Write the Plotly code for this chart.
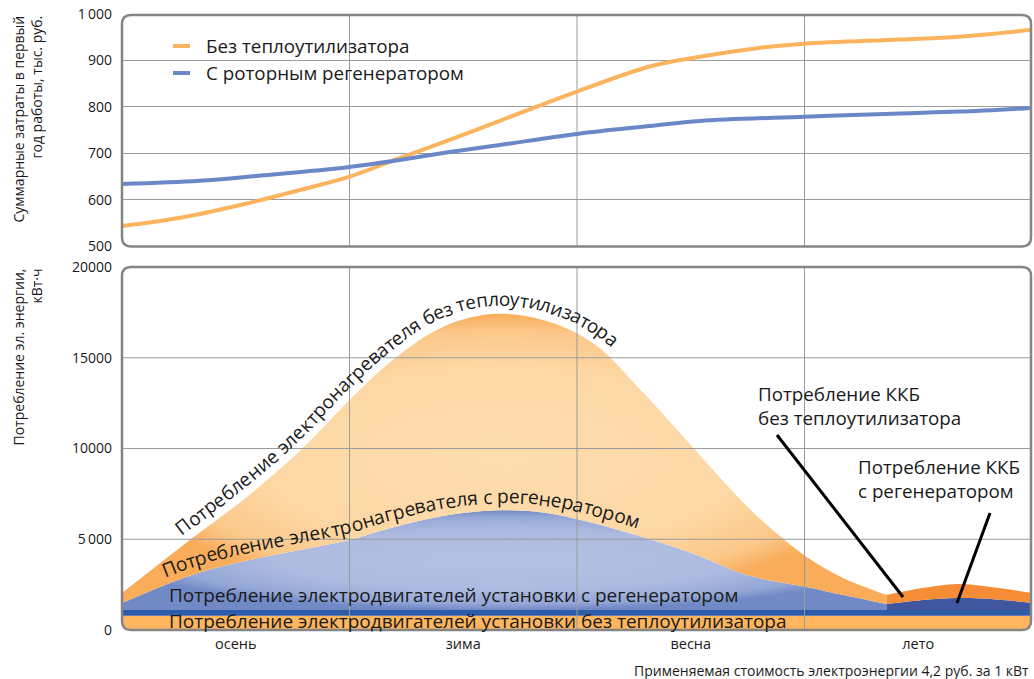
import numpy as np
import plotly.graph_objects as go

# ---------------- data ----------------
seasons = ['осень', 'зима', 'весна', 'лето']
season_pos = [0.5, 1.5, 2.5, 3.5]
season_bounds = [1, 2, 3]

# top panel: total costs, thousand rub
cost_x_without = [0, 0.25, 0.52, 0.78, 1.0, 1.22, 1.44, 1.66, 2.0, 2.32, 2.54, 2.8, 3.0, 3.42, 3.68, 4.0]
cost_without = [544, 561, 589, 621, 650, 690, 729, 770, 833, 887, 908, 927, 936, 945, 951, 966]
cost_x_with = [0, 0.34, 0.6, 1.0, 1.22, 1.44, 1.66, 2.0, 2.32, 2.54, 3.0, 3.42, 3.68, 4.0]
cost_with = [634, 641, 652, 671, 686, 703, 718, 742, 759, 770, 779, 786, 790, 798]

cost_ticks = [500, 600, 700, 800, 900, 1000]
cost_ticktext = ['500', '600', '700', '800', '900', '1\u2009000']

# bottom panel: energy consumption, kWh (stacked tops)
motors_x = [0, 4]
motors_without_top = [790, 790]
motors_with_top = [1100, 1100]

heater_x = [0, 0.31, 0.56, 0.8, 1.0, 1.19, 1.41, 1.63, 1.85, 2.07, 2.28, 2.5, 2.72, 2.86, 3.01, 3.16, 3.36]
heater_with_top = [1490, 3050, 3860, 4450, 4960, 5650, 6280, 6580, 6480, 5900, 5150, 4250, 3140, 2700, 2370, 1950, 1430]
heater_without_top = [2040, 5070, 7440, 10080, 12670, 14880, 16700, 17410, 17080, 15810, 13220, 10190, 7160, 5510, 4020, 2920, 1930]

kkb_x = [3.36, 3.52, 3.67, 3.82, 4.0]
kkb_with_top = [1430, 1650, 1760, 1710, 1490]
kkb_without_top = [1930, 2310, 2530, 2370, 2040]

energy_ticks = [0, 5000, 10000, 15000, 20000]
energy_ticktext = ['0', '5\u2009000', '10000', '15000', '20000']
energy_grid = [5000, 10000, 15000]

# ---------------- geometry helpers (for labels / frame only) ----------------
W, H = 1034, 679
ML, MR, MT, MB = 122, 2, 14, 49
PW = W - ML - MR          # 910
PH = H - MT - MB          # 616
TOP_PX = (14, 246.4)
BOT_PX = (267, 630)
top_dom = [(630 - TOP_PX[1]) / PH, 1.0]
bot_dom = [0.0, (630 - BOT_PX[0]) / PH]

def fx(p):
    return (p - ML) / PW

def fy(p):
    return (630 - p) / PH

def d2px(x, y):
    return ML + x * PW / 4.0, BOT_PX[1] - y * (BOT_PX[1] - BOT_PX[0]) / 20000.0

def px2d(px, py):
    return (px - ML) * 4.0 / PW, (BOT_PX[1] - py) * 20000.0 / (BOT_PX[1] - BOT_PX[0])

FONT = 'Open Sans'
TXT = '#1a1a1a'

EM = {'П': .73, 'Б': .62, 'С': .63, 'К': .62, 'а': .56, 'б': .60, 'в': .58, 'г': .45, 'д': .60,
      'е': .56, 'ж': .86, 'з': .49, 'и': .64, 'й': .64, 'к': .55, 'л': .60, 'м': .75, 'н': .64,
      'о': .60, 'п': .64, 'р': .61, 'с': .48, 'т': .47, 'у': .50, 'ф': .78, 'х': .52, 'ц': .65,
      'ч': .60, 'ш': .92, 'щ': .94, 'ы': .82, 'ь': .58, 'э': .49, 'ю': .86, 'я': .56, ' ': .26}

def catmull(pts, n=60):
    P = [pts[0]] + list(pts) + [pts[-1]]
    out = []
    for i in range(1, len(P) - 2):
        p0, p1, p2, p3 = [np.array(v, float) for v in P[i - 1:i + 3]]
        for t in np.linspace(0, 1, n, endpoint=False):
            t2, t3 = t * t, t * t * t
            out.append(0.5 * (2 * p1 + (-p0 + p2) * t + (2 * p0 - 5 * p1 + 4 * p2 - p3) * t2
                              + (-p0 + 3 * p1 - 3 * p2 + p3) * t3))
    out.append(np.array(P[-2], float))
    return np.array(out)

def curved_text(text, xs, ys, px_start, px_end, offset, max_size):
    pts = [d2px(x, y) for x, y in zip(xs, ys)]
    path = catmull(pts)
    d = np.gradient(path, axis=0)
    d = d / np.hypot(d[:, 0], d[:, 1])[:, None]
    nrm = np.stack([d[:, 1], -d[:, 0]], axis=1)
    op = path + offset * nrm
    seg = np.diff(op, axis=0)
    s = np.concatenate([[0.0], np.cumsum(np.hypot(seg[:, 0], seg[:, 1]))])
    i0 = int(np.argmin(np.abs(path[:, 0] - px_start)))
    i1 = int(np.argmin(np.abs(path[:, 0] - px_end)))
    s0, s1 = s[i0], s[i1]
    widths = np.array([EM.get(c, 0.58) for c in text])
    scale = (s1 - s0) / widths.sum()
    size = min(scale, max_size)
    anns = []
    pos = s0
    for c, w in zip(text, widths):
        mid = pos + w * scale / 2
        pos += w * scale
        if c == ' ':
            continue
        j = int(np.clip(np.searchsorted(s, mid), 1, len(s) - 1))
        t = (mid - s[j - 1]) / max(s[j] - s[j - 1], 1e-9)
        p = op[j - 1] + t * (op[j] - op[j - 1])
        ang = float(np.degrees(np.arctan2(d[j, 1], d[j, 0])))
        x, y = px2d(p[0], p[1])
        anns.append(dict(x=x, y=y, xref='x2', yref='y2', text=c, showarrow=False,
                         textangle=ang, xanchor='center', yanchor='middle',
                         font=dict(family=FONT, size=size, color=TXT)))
    return anns

# ---------------- figure ----------------
fig = go.Figure()

ORANGE_LINE = '#FBB45E'
BLUE_LINE = '#6A88C8'

fig.add_trace(go.Scatter(x=cost_x_without, y=cost_without, mode='lines', name='Без теплоутилизатора',
                         line=dict(color=ORANGE_LINE, width=4, shape='spline'),
                         xaxis='x', yaxis='y', showlegend=False))
fig.add_trace(go.Scatter(x=cost_x_with, y=cost_with, mode='lines', name='С роторным регенератором',
                         line=dict(color=BLUE_LINE, width=4, shape='spline'),
                         xaxis='x', yaxis='y', showlegend=False))

# bottom stacked areas
fig.add_trace(go.Scatter(x=motors_x, y=motors_without_top, mode='lines', fill='tozeroy',
                         fillcolor='#FDB55E', line=dict(width=0, color='#FDB55E'),
                         xaxis='x2', yaxis='y2', showlegend=False))
fig.add_trace(go.Scatter(x=motors_x, y=motors_with_top, mode='lines', fill='tonexty',
                         fillcolor='#2D5BA8', line=dict(width=0, color='#2D5BA8'),
                         xaxis='x2', yaxis='y2', showlegend=False))

fig.add_trace(go.Scatter(x=heater_x, y=[motors_with_top[0]] * len(heater_x), mode='lines',
                         line=dict(width=0, color='rgba(0,0,0,0)'),
                         xaxis='x2', yaxis='y2', showlegend=False))
fig.add_trace(go.Scatter(x=heater_x, y=heater_with_top, mode='lines', fill='tonexty',
                         line=dict(width=0, shape='spline', color='#7089C5'),
                         fillgradient=dict(type='radial',
                                           colorscale=[[0, '#B3C1E4'], [0.6, '#ADBBE0'],
                                                       [0.88, '#93A6D6'], [1, '#7189C5']]),
                         xaxis='x2', yaxis='y2', showlegend=False))
fig.add_trace(go.Scatter(x=heater_x, y=heater_without_top, mode='lines', fill='tonexty',
                         line=dict(width=0, shape='spline', color='#F9AE5E'),
                         fillgradient=dict(type='radial',
                                           colorscale=[[0, '#FDDCAE'], [0.62, '#FDD8A5'],
                                                       [0.88, '#FCC88A'], [1, '#F9AC5A']]),
                         xaxis='x2', yaxis='y2', showlegend=False))

fig.add_trace(go.Scatter(x=kkb_x, y=[motors_with_top[0]] * len(kkb_x), mode='lines',
                         line=dict(width=0, color='rgba(0,0,0,0)'),
                         xaxis='x2', yaxis='y2', showlegend=False))
fig.add_trace(go.Scatter(x=kkb_x, y=kkb_with_top, mode='lines', fill='tonexty',
                         fillcolor='#40579F', line=dict(width=0, shape='spline', color='#40579F'),
                         xaxis='x2', yaxis='y2', showlegend=False))
fig.add_trace(go.Scatter(x=kkb_x, y=kkb_without_top, mode='lines', fill='tonexty',
                         fillcolor='#F78C37', line=dict(width=0, shape='spline', color='#F78C37'),
                         xaxis='x2', yaxis='y2', showlegend=False))

GRID = '#9b9b9b'
FRAME = '#858585'
shapes = []
for b in season_bounds:
    shapes.append(dict(type='line', xref='x', yref='y domain', x0=b, x1=b, y0=0, y1=1,
                       line=dict(color=GRID, width=1), layer='below'))
    shapes.append(dict(type='line', xref='x2', yref='y2 domain', x0=b, x1=b, y0=0, y1=1,
                       line=dict(color=GRID, width=1), layer='above'))
for g in energy_grid:
    shapes.append(dict(type='line', xref='x2 domain', yref='y2', x0=0, x1=1, y0=g, y1=g,
                       line=dict(color=GRID, width=1), layer='above'))

# callout lines
for (p0, p1) in [((777, 435), (903, 597)), ((990, 513), (957, 603))]:
    a = px2d(*p0)
    b = px2d(*p1)
    shapes.append(dict(type='line', xref='x2', yref='y2', x0=a[0], y0=a[1], x1=b[0], y1=b[1],
                       line=dict(color='black', width=3), layer='above'))

def rounded(x0, y0, x1, y1, r):
    return (f"M {fx(x0 + r)},{fy(y0)} L {fx(x1 - r)},{fy(y0)} Q {fx(x1)},{fy(y0)} {fx(x1)},{fy(y0 + r)} "
            f"L {fx(x1)},{fy(y1 - r)} Q {fx(x1)},{fy(y1)} {fx(x1 - r)},{fy(y1)} "
            f"L {fx(x0 + r)},{fy(y1)} Q {fx(x0)},{fy(y1)} {fx(x0)},{fy(y1 - r)} "
            f"L {fx(x0)},{fy(y0 + r)} Q {fx(x0)},{fy(y0)} {fx(x0 + r)},{fy(y0)} Z")

R = 9
# white masks for corners of the lower panel
x0, y0, x1, y1 = ML, BOT_PX[0], ML + PW, BOT_PX[1]
for (cx, cy, sx, sy) in [(x0, y1, 1, -1), (x1, y1, -1, -1), (x0, y0, 1, 1), (x1, y0, -1, 1)]:
    path = (f"M {fx(cx)},{fy(cy)} L {fx(cx)},{fy(cy + sy * R)} "
            f"Q {fx(cx)},{fy(cy)} {fx(cx + sx * R)},{fy(cy)} Z")
    shapes.append(dict(type='path', xref='paper', yref='paper', path=path,
                       fillcolor='white', line=dict(color='white', width=2), layer='above'))

shapes.append(dict(type='path', xref='paper', yref='paper',
                   path=rounded(ML, TOP_PX[0] + 1, ML + PW - 1, TOP_PX[1], R),
                   line=dict(color=FRAME, width=2.5), layer='above'))
shapes.append(dict(type='path', xref='paper', yref='paper',
                   path=rounded(ML, BOT_PX[0], ML + PW - 1, BOT_PX[1], R),
                   line=dict(color=FRAME, width=2.5), layer='above'))

# manual legend
legend_items = [('Без теплоутилизатора', ORANGE_LINE, 46), ('С роторным регенератором', BLUE_LINE, 73)]
annotations = []
for name, col, py in legend_items:
    shapes.append(dict(type='line', xref='paper', yref='paper', x0=fx(173), x1=fx(190),
                       y0=fy(py), y1=fy(py), line=dict(color=col, width=4)))
    annotations.append(dict(xref='paper', yref='paper', x=fx(204), y=fy(py), text=name,
                            showarrow=False, xanchor='left', yanchor='middle',
                            font=dict(family=FONT, size=18.8, color=TXT)))

# axis titles
annotations.append(dict(xref='paper', yref='paper', x=fx(27), y=fy(14),
                        text='Суммарные затраты в первый<br>год работы, тыс. руб.',
                        textangle=-90, align='right', showarrow=False,
                        xanchor='center', yanchor='top',
                        font=dict(family=FONT, size=14, color=TXT)))
annotations.append(dict(xref='paper', yref='paper', x=fx(27), y=fy(267),
                        text='Потребление эл. энергии,<br>кВт·ч',
                        textangle=-90, align='right', showarrow=False,
                        xanchor='center', yanchor='top',
                        font=dict(family=FONT, size=14, color=TXT)))

annotations.append(dict(xref='paper', yref='paper', x=fx(1031), y=fy(670),
                        text='Применяемая стоимость электроэнергии 4,2 руб. за 1 кВт',
                        showarrow=False, xanchor='right', yanchor='middle',
                        font=dict(family=FONT, size=14, color=TXT)))

# straight series labels
for txt, py in [('Потребление электродвигателей установки с регенератором', 595),
                ('Потребление электродвигателей установки без теплоутилизатора', 621)]:
    x, y = px2d(167, py)
    annotations.append(dict(xref='x2', yref='y2', x=x, y=y, text=txt, showarrow=False,
                            xanchor='left', yanchor='middle',
                            font=dict(family=FONT, size=19, color=TXT)))

# KKB labels
for txt, px, py in [('Потребление ККБ<br>без теплоутилизатора', 756, 405.5),
                    ('Потребление ККБ<br>с регенератором', 856, 479)]:
    x, y = px2d(px, py)
    annotations.append(dict(xref='x2', yref='y2', x=x, y=y, text=txt, showarrow=False,
                            xanchor='left', yanchor='middle', align='left',
                            font=dict(family=FONT, size=18.8, color=TXT)))

# curved labels
annotations += curved_text('Потребление электронагревателя без теплоутилизатора',
                           heater_x, heater_without_top, 187, 606, 15, 20.5)
annotations += curved_text('Потребление электронагревателя с регенератором',
                           heater_x, heater_with_top, 168, 636, 14.5, 20.5)

fig.update_layout(
    width=W, height=H,
    margin=dict(l=ML, r=MR, t=MT, b=MB, autoexpand=False),
    paper_bgcolor='white', plot_bgcolor='white',
    font=dict(family=FONT, color=TXT),
    showlegend=False,
    xaxis=dict(domain=[0, 1], anchor='y', range=[0, 4], showticklabels=False, showgrid=False,
               zeroline=False, showline=False, ticks=''),
    yaxis=dict(domain=top_dom, anchor='x', range=[500, 1000], tickvals=cost_ticks,
               ticktext=cost_ticktext, showgrid=True, gridcolor=GRID, gridwidth=1,
               zeroline=False, showline=False, ticks='', ticklabelstandoff=9,
               tickfont=dict(family=FONT, size=14, color=TXT)),
    xaxis2=dict(domain=[0, 1], anchor='y2', range=[0, 4], tickvals=season_pos, ticktext=seasons,
                showgrid=False, zeroline=False, showline=False, ticks='', ticklabelstandoff=3,
                tickfont=dict(family=FONT, size=14.5, color=TXT)),
    yaxis2=dict(domain=bot_dom, anchor='x2', range=[0, 20000], tickvals=energy_ticks,
                ticktext=energy_ticktext, showgrid=False, zeroline=False, showline=False,
                ticks='', ticklabelstandoff=9,
                tickfont=dict(family=FONT, size=14, color=TXT)),
    shapes=shapes,
    annotations=annotations,
)

fig.write_html('out.html',
               config={'displayModeBar': False},
               post_script="document.documentElement.style.margin='0';"
                           "document.body.style.margin='0';"
                           "document.body.style.padding='0';"
                           "document.body.style.overflow='hidden';")
